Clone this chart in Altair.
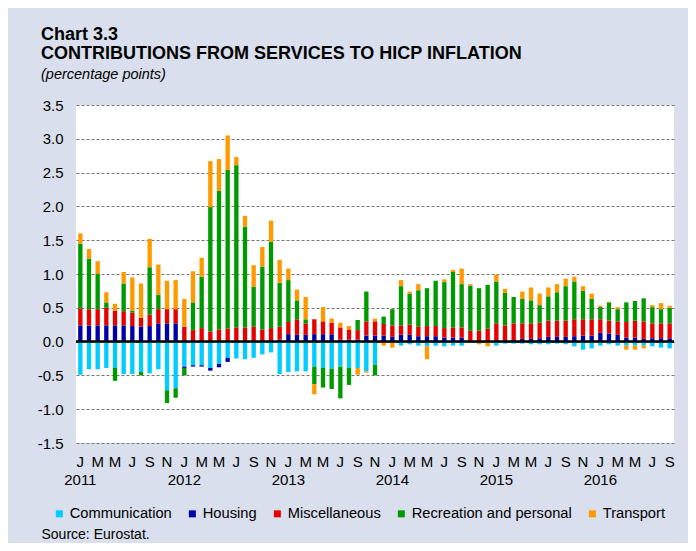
import json
import altair as alt
import pandas as pd

FONT = "Liberation Sans"

years = [2011, 2012, 2013, 2014, 2015, 2016]
month_letters = ["J", "F", "M", "A", "M", "J", "J", "A", "S", "O", "N", "D"]
n_months = 69  # Jan 2011 .. Sep 2016

series_names = ["Communication", "Housing", "Miscellaneous",
                "Recreation and personal", "Transport"]
series_colors = ["#00ccff", "#0000aa", "#e60000", "#009900", "#ff9900"]

communication = [
    -0.49, -0.41, -0.41, -0.39, -0.39, -0.48, -0.48, -0.45, -0.47, -0.41, -0.72, -0.69,
    -0.37, -0.35, -0.35, -0.39, -0.33, -0.24, -0.25, -0.26, -0.24, -0.19, -0.16, -0.48,
    -0.45, -0.44, -0.44, -0.37, -0.39, -0.40, -0.37, -0.39, -0.39, -0.44, -0.34, -0.01,
    -0.01, -0.06, -0.04, -0.06, -0.07, -0.06, -0.07, -0.06, -0.06, -0.02, -0.02, 0.00,
    -0.06, -0.03, -0.03, -0.03, -0.04, -0.04, -0.04, -0.03, -0.04, -0.07, -0.12, -0.10,
    -0.06, -0.04, -0.06, -0.06, -0.06, -0.06, -0.07, -0.09, -0.10]
housing = [
    0.24, 0.24, 0.24, 0.24, 0.24, 0.24, 0.23, 0.22, 0.23, 0.27, 0.27, 0.27,
    -0.02, -0.02, -0.02, -0.04, -0.05, -0.06, 0.00, 0.00, 0.00, 0.02, 0.02, 0.03,
    0.11, 0.10, 0.10, 0.11, 0.11, 0.11, 0.03, 0.03, 0.03, 0.09, 0.09, 0.09,
    0.07, 0.10, 0.10, 0.08, 0.08, 0.08, 0.06, 0.06, 0.06, 0.00, 0.00, 0.00,
    0.02, 0.01, 0.02, 0.04, 0.04, 0.05, 0.07, 0.07, 0.07, 0.08, 0.09, 0.09,
    0.13, 0.12, 0.10, 0.06, 0.06, 0.04, 0.05, 0.05, 0.05]
miscellaneous = [
    0.25, 0.24, 0.24, 0.26, 0.22, 0.21, 0.20, 0.13, 0.17, 0.21, 0.21, 0.21,
    0.22, 0.17, 0.20, 0.15, 0.18, 0.19, 0.21, 0.21, 0.22, 0.16, 0.18, 0.19,
    0.18, 0.23, 0.17, 0.22, 0.19, 0.17, 0.18, 0.15, 0.14, 0.21, 0.21, 0.17,
    0.17, 0.14, 0.15, 0.14, 0.15, 0.15, 0.14, 0.15, 0.15, 0.16, 0.16, 0.19,
    0.25, 0.23, 0.25, 0.23, 0.23, 0.23, 0.24, 0.24, 0.24, 0.25, 0.24, 0.24,
    0.20, 0.19, 0.20, 0.23, 0.25, 0.26, 0.22, 0.22, 0.22]
recreation = [
    0.96, 0.75, 0.52, 0.08, -0.19, 0.41, 0.03, -0.05, 0.70, 0.21, -0.19, -0.14,
    -0.11, 0.41, 0.76, 1.84, 2.05, 2.35, 2.40, 1.49, 0.59, 0.93, 1.28, 0.65,
    0.62, 0.28, 0.06, -0.26, -0.29, -0.30, -0.47, -0.25, 0.15, 0.44, -0.16, 0.11,
    0.24, 0.58, 0.46, 0.54, 0.56, 0.67, 0.68, 0.82, 0.64, 0.67, 0.63, 0.65,
    0.62, 0.48, 0.39, 0.36, 0.34, 0.26, 0.36, 0.42, 0.51, 0.56, 0.42, 0.30,
    0.18, 0.27, 0.18, 0.29, 0.29, 0.34, 0.24, 0.21, 0.23]
transport = [
    0.15, 0.14, 0.19, 0.15, 0.10, 0.17, 0.49, 0.51, 0.42, 0.45, 0.42, 0.43,
    0.41, 0.46, 0.28, 0.68, 0.47, 0.51, 0.12, 0.16, 0.32, 0.29, 0.31, 0.34,
    0.17, 0.16, 0.33, -0.15, 0.21, 0.06, 0.07, 0.05, -0.10, -0.02, 0.04, -0.05,
    -0.08, 0.09, 0.03, 0.09, -0.19, 0.00, 0.04, 0.03, 0.23, 0.02, -0.02, -0.07,
    0.10, 0.06, 0.00, 0.11, 0.19, 0.17, 0.13, 0.12, 0.11, 0.07, 0.07, 0.08,
    0.02, 0.01, 0.03, -0.06, -0.06, -0.04, 0.03, 0.09, 0.03]

y_ticks = [-1.5, -1.0, -0.5, 0.0, 0.5, 1.0, 1.5, 2.0, 2.5, 3.0, 3.5]

rows = []
for k, (name, vals) in enumerate(zip(series_names,
                                     [communication, housing, miscellaneous,
                                      recreation, transport])):
    for i, v in enumerate(vals):
        rows.append({"i": i, "series": name, "k": k, "value": v})
df = pd.DataFrame(rows)

labels = []
for i in range(n_months):
    m = i % 12
    if m == 0:
        labels.append([month_letters[m], str(years[i // 12])])
    else:
        labels.append(month_letters[m])
x_label_expr = json.dumps(labels) + "[datum.value]"

y_axis = alt.Axis(
    values=y_ticks, title=None, domain=False, ticks=False, tickSize=0,
    labelExpr="datum.value < 0 ? '-' + format(-datum.value, '.1f') : format(datum.value, '.1f')",
    labelFont=FONT, labelFontSize=15, labelColor="black", labelPadding=13,
    grid=True, gridDash=[3, 2], gridColor="#777777", gridWidth=1,
)
y_scale = alt.Scale(domain=[-1.5, 3.5], nice=False, zero=False)

bars = alt.Chart(df).mark_bar().encode(
    x=alt.X(
        "i:O",
        scale=alt.Scale(paddingInner=0.5, paddingOuter=0.25),
        axis=alt.Axis(
            values=list(range(0, n_months, 2)), labelExpr=x_label_expr,
            labelAngle=0, labelFont=FONT, labelFontSize=15, labelColor="black",
            labelPadding=11, labelLineHeight=18, labelOverlap=False,
            labelBaseline="top",
            ticks=False, tickSize=0, domain=False, grid=False,
            title="Source: Eurostat.", titleX=-35, titleY=95, titleAlign="left",
            titleAnchor="start", titleBaseline="alphabetic", titleFont=FONT,
            titleFontSize=14, titleFontWeight="normal", titleColor="black",
        ),
    ),
    y=alt.Y("value:Q", stack="zero", scale=y_scale, axis=y_axis),
    color=alt.Color(
        "series:N",
        scale=alt.Scale(domain=series_names, range=series_colors),
        legend=alt.Legend(
            orient="none", legendX=-24, legendY=401, direction="horizontal",
            title=None, symbolType="square", symbolSize=49,
            symbolStrokeWidth=0, labelFont=FONT, labelFontSize=14.7,
            labelColor="black", labelOffset=3, columnPadding=13,
            labelLimit=300, padding=0,
        ),
    ),
    order=alt.Order("k:Q", sort="ascending"),
)

zero_line = alt.Chart(pd.DataFrame({"zero": [0.0]})).mark_rule(
    color="black", strokeWidth=2.5
).encode(y=alt.Y("zero:Q", scale=y_scale, axis=y_axis))

chart = alt.layer(bars, zero_line).properties(
    width=598,
    height=338,
    autosize=alt.AutoSizeParams(type="none"),
    padding={"left": 68, "top": 97, "right": 14, "bottom": 100},
    background="#d9dfec",
    title=alt.Title(
        text=["Chart 3.3", "CONTRIBUTIONS FROM SERVICES TO HICP INFLATION"],
        subtitle="(percentage points)",
        anchor="start", frame="group", dx=-35, offset=17,
        font=FONT, fontSize=18, fontWeight="bold", color="black",
        lineHeight=18.5,
        subtitleFont=FONT, subtitleFontSize=14.5, subtitleFontStyle="italic",
        subtitleColor="black", subtitlePadding=5,
    ),
).configure_view(fill="white", stroke=None)

chart.save("out.html", embed_options={"renderer": "svg", "actions": False})
